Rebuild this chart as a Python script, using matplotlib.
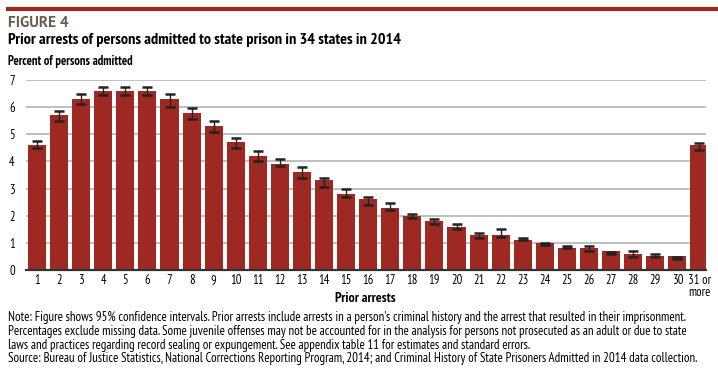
import matplotlib.pyplot as plt
import numpy as np

plt.rcParams['font.family'] = ['PT Sans Narrow', 'Roboto Condensed', 'Fira Sans Condensed', 'DejaVu Sans']

# percent of persons admitted, by number of prior arrests
labels = [str(i) for i in range(1, 31)] + ["31 or\nmore"]
pct = [4.6, 5.7, 6.3, 6.6, 6.6, 6.6, 6.3, 5.8, 5.3, 4.7, 4.2, 3.9, 3.6, 3.3, 2.8,
       2.6, 2.3, 2.0, 1.8, 1.6, 1.3, 1.3, 1.1, 1.0, 0.8, 0.8, 0.7, 0.6, 0.5, 0.5, 4.6]
# 95% confidence interval bounds
lower = [4.48, 5.5, 6.1, 6.43, 6.43, 6.43, 6.02, 5.58, 5.1, 4.49, 4.0, 3.82, 3.39, 3.07, 2.69,
         2.39, 2.2, 1.9, 1.71, 1.5, 1.17, 1.21, 1.09, 0.92, 0.8, 0.7, 0.59, 0.48, 0.48, 0.39, 4.41]
upper = [4.77, 5.87, 6.49, 6.76, 6.76, 6.76, 6.49, 5.97, 5.5, 4.88, 4.37, 4.08, 3.78, 3.38, 2.97,
         2.68, 2.46, 2.06, 1.87, 1.69, 1.36, 1.5, 1.17, 1.0, 0.89, 0.89, 0.67, 0.69, 0.6, 0.49, 4.68]

x = np.arange(1, len(pct) + 1)
lo = np.array(lower)
hi = np.array(upper)

fig = plt.figure(figsize=(7.18, 3.72), dpi=100)
ax = fig.add_axes([26 / 718, 102 / 372, 680 / 718, 190 / 372])

ax.bar(x, pct, width=0.82, color="#9e2822", zorder=2)
ax.errorbar(x, (lo + hi) / 2, yerr=(hi - lo) / 2, fmt="none", ecolor="#222222",
            elinewidth=1.0, capsize=3.5, capthick=1.8, zorder=3)

ax.set_ylim(0, 7)
ax.set_xlim(0.5, 31.3)
ax.set_yticks(range(0, 8))
ax.set_xticks(x)
ax.set_xticklabels(labels, fontsize=9, linespacing=0.85, va="top")
ax.tick_params(axis="y", length=0, labelsize=9, pad=10)
ax.tick_params(axis="x", length=0, labelsize=9, pad=3)
for lab in ax.get_yticklabels():
    lab.set_horizontalalignment("center")
ax.yaxis.grid(True, color="#b4b4b4", linewidth=1.2, zorder=0)
ax.set_axisbelow(True)
for s in ["top", "right", "left"]:
    ax.spines[s].set_visible(False)
ax.spines["bottom"].set_color("#333333")
ax.spines["bottom"].set_linewidth(1.6)
fig.text(365 / 718, 1 - 298 / 372, "Prior arrests", fontsize=10, fontweight="bold",
         ha="center", va="center")

# header
fig.add_artist(plt.Line2D([8 / 718, 1], [1 - 9 / 372, 1 - 9 / 372], color="#9b2a1f", linewidth=3))
fig.text(8 / 718, 1 - 23 / 372, "FIGURE 4", fontsize=11, fontweight="bold",
         color="#6b5a4e", va="center", family=["PT Sans", "DejaVu Sans"])
fig.text(8 / 718, 1 - 40 / 372, "Prior arrests of persons admitted to state prison in 34 states in 2014",
         fontsize=11.6, fontweight="bold", va="center")
fig.text(8 / 718, 1 - 62 / 372, "Percent of persons admitted", fontsize=9,
         fontweight="bold", va="center")

notes = [
    "Note: Figure shows 95% confidence intervals. Prior arrests include arrests in a person's criminal history and the arrest that resulted in their imprisonment.",
    "Percentages exclude missing data. Some juvenile offenses may not be accounted for in the analysis for persons not prosecuted as an adult or due to state",
    "laws and practices regarding record sealing or expungement. See appendix table 11 for estimates and standard errors.",
    "Source: Bureau of Justice Statistics, National Corrections Reporting Program, 2014; and Criminal History of State Prisoners Admitted in 2014 data collection.",
]
for i, line in enumerate(notes):
    fig.text(8 / 718, 1 - (318 + 13.6 * i) / 372, line, fontsize=9.3, va="center")

fig.savefig("out.png", dpi=100)
